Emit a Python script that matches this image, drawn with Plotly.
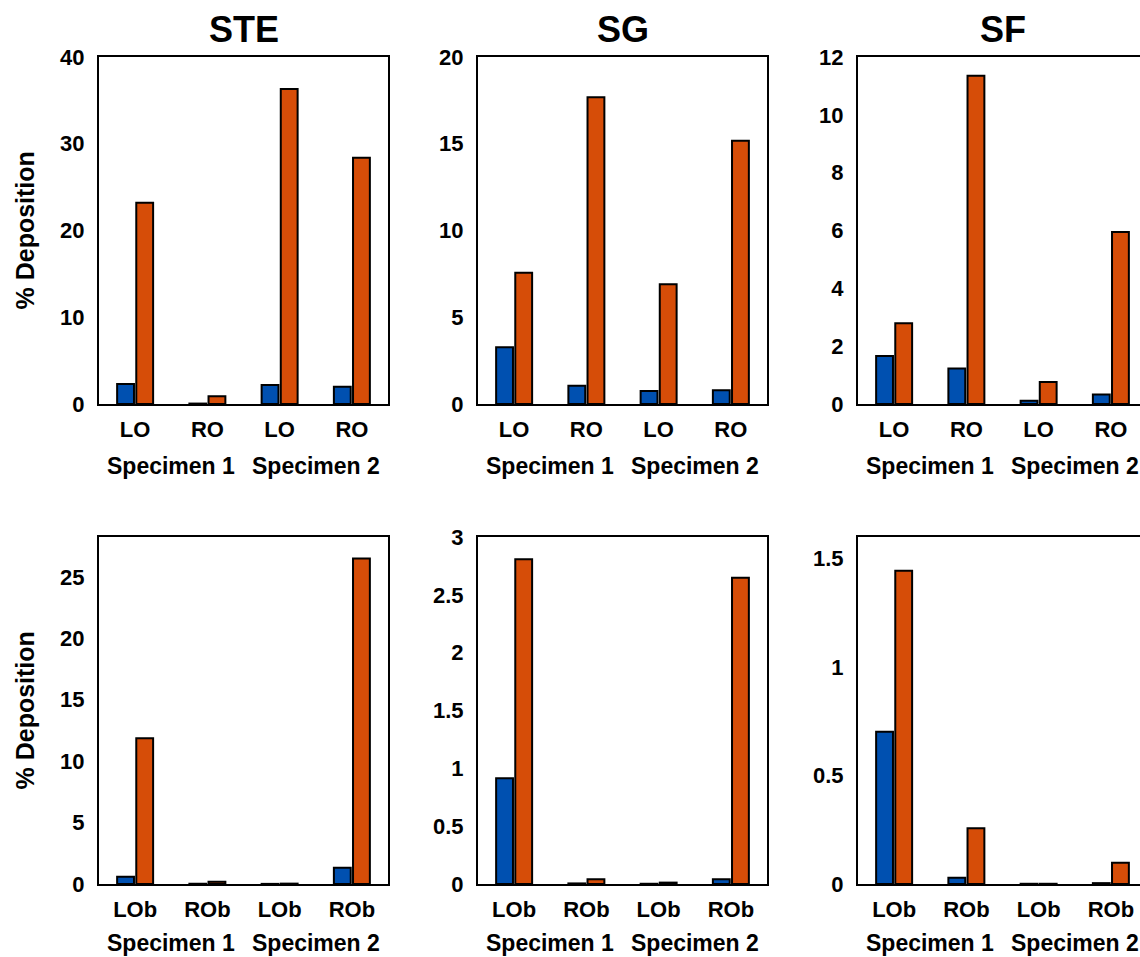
import plotly.graph_objects as go

W, H = 1140, 957

panel_titles = ["STE", "SG", "SF"]
top_cats = ["LO", "RO", "LO", "RO"]
bot_cats = ["LOb", "ROb", "LOb", "ROb"]
specimens = ["Specimen 1", "Specimen 2"]

# top row (blue, orange) per panel
ste_top_blue = [2.3, 0.05, 2.2, 2.0]
ste_top_orange = [23.2, 0.9, 36.3, 28.4]
sg_top_blue = [3.27, 1.05, 0.75, 0.79]
sg_top_orange = [7.57, 17.68, 6.9, 15.18]
sf_top_blue = [1.66, 1.23, 0.11, 0.33]
sf_top_orange = [2.79, 11.35, 0.76, 5.95]

# bottom row
ste_bot_blue = [0.6, 0.02, 0.01, 1.33]
ste_bot_orange = [11.87, 0.18, 0.03, 26.5]
sg_bot_blue = [0.914, 0.005, 0.002, 0.04]
sg_bot_orange = [2.807, 0.04, 0.012, 2.648]
sf_bot_blue = [0.702, 0.029, 0.001, 0.004]
sf_bot_orange = [1.444, 0.257, 0.001, 0.098]

y_ranges = [[0, 40], [0, 20], [0, 12], [0, 28.25], [0, 3], [0, 1.6]]
y_dticks = [10, 5, 2, 5, 0.5, 0.5]

BLUE = "#0050B0"
ORANGE = "#D64D08"
FONT = "Liberation Sans, Arial, Helvetica, sans-serif"

data = [
    (ste_top_blue, ste_top_orange, top_cats),
    (sg_top_blue, sg_top_orange, top_cats),
    (sf_top_blue, sf_top_orange, top_cats),
    (ste_bot_blue, ste_bot_orange, bot_cats),
    (sg_bot_blue, sg_bot_orange, bot_cats),
    (sf_bot_blue, sf_bot_orange, bot_cats),
]

# panel pixel geometry
col_left = [99, 478, 858]
panel_w = 289
row_top = [57, 537]
panel_h = 347
spec_offset = [62, 59]

fig = go.Figure()
annotations = []
for i, (b, o, cats) in enumerate(data):
    r, c = divmod(i, 3)
    n = i + 1
    xa = "x" if n == 1 else f"x{n}"
    ya = "y" if n == 1 else f"y{n}"
    xpos = list(range(len(cats)))
    for vals, col, og in ((b, BLUE, "a"), (o, ORANGE, "b")):
        fig.add_trace(go.Bar(x=xpos, y=vals, xaxis=xa, yaxis=ya, offsetgroup=og,
                             marker=dict(color=col, line=dict(color="black", width=2)),
                             showlegend=False))
    x0 = col_left[c]
    x1 = min(x0 + panel_w, W)
    span = (x1 - x0) / (panel_w / 4.0)
    y0 = row_top[r]
    y1 = y0 + panel_h
    cut = (x0 + panel_w) > W
    fig.update_layout(**{
        ("xaxis" if n == 1 else f"xaxis{n}"): dict(
            domain=[x0 / W, x1 / W], range=[-0.5, -0.5 + span], anchor=ya,
            tickvals=xpos, ticktext=cats, showline=True, linecolor="black", linewidth=2,
            mirror=True, showgrid=False, zeroline=False, ticks="", automargin=False,
            tickfont=dict(size=22, color="black", family=FONT, weight="bold"),
            ticklabelstandoff=5, fixedrange=True),
        ("yaxis" if n == 1 else f"yaxis{n}"): dict(
            domain=[1 - y1 / H, 1 - y0 / H], range=y_ranges[i], anchor=xa,
            dtick=y_dticks[i], tick0=0, showline=True, linecolor="black", linewidth=2,
            mirror=(not cut), showgrid=False, zeroline=False, ticks="", automargin=False,
            tickfont=dict(size=22, color="black", family=FONT, weight="bold"),
            ticklabelstandoff=8, fixedrange=True),
    })
    # specimen labels
    for k, s in enumerate(specimens):
        annotations.append(dict(text=s, x=0.5 + 2 * k, xref=xa,
                                y=1 - (y1 + spec_offset[r]) / H, yref="paper",
                                showarrow=False, xanchor="center", yanchor="middle",
                                font=dict(size=23, color="black", family=FONT, weight="bold")))
    if r == 0:
        annotations.append(dict(text=panel_titles[c], x=1.5, xref=xa, y=1 - 30 / H, yref="paper",
                                showarrow=False, xanchor="center", yanchor="middle",
                                font=dict(size=36, color="black", family=FONT, weight="bold")))
    if c == 0:
        annotations.append(dict(text="% Deposition", x=24 / W, xref="paper",
                                y=1 - (y0 + panel_h / 2) / H, yref="paper", textangle=-90,
                                showarrow=False, xanchor="center", yanchor="middle",
                                font=dict(size=25, color="black", family=FONT, weight="bold")))

fig.update_layout(width=W, height=H, margin=dict(l=0, r=0, t=0, b=0, pad=0),
                  paper_bgcolor="white", plot_bgcolor="white",
                  barmode="group", bargap=0.47, bargroupgap=0.12,
                  font=dict(family=FONT, color="black", weight="bold"),
                  annotations=annotations)

fig.write_html("out.html", config={"displayModeBar": False},
               post_script="document.body.style.margin='0px';")
